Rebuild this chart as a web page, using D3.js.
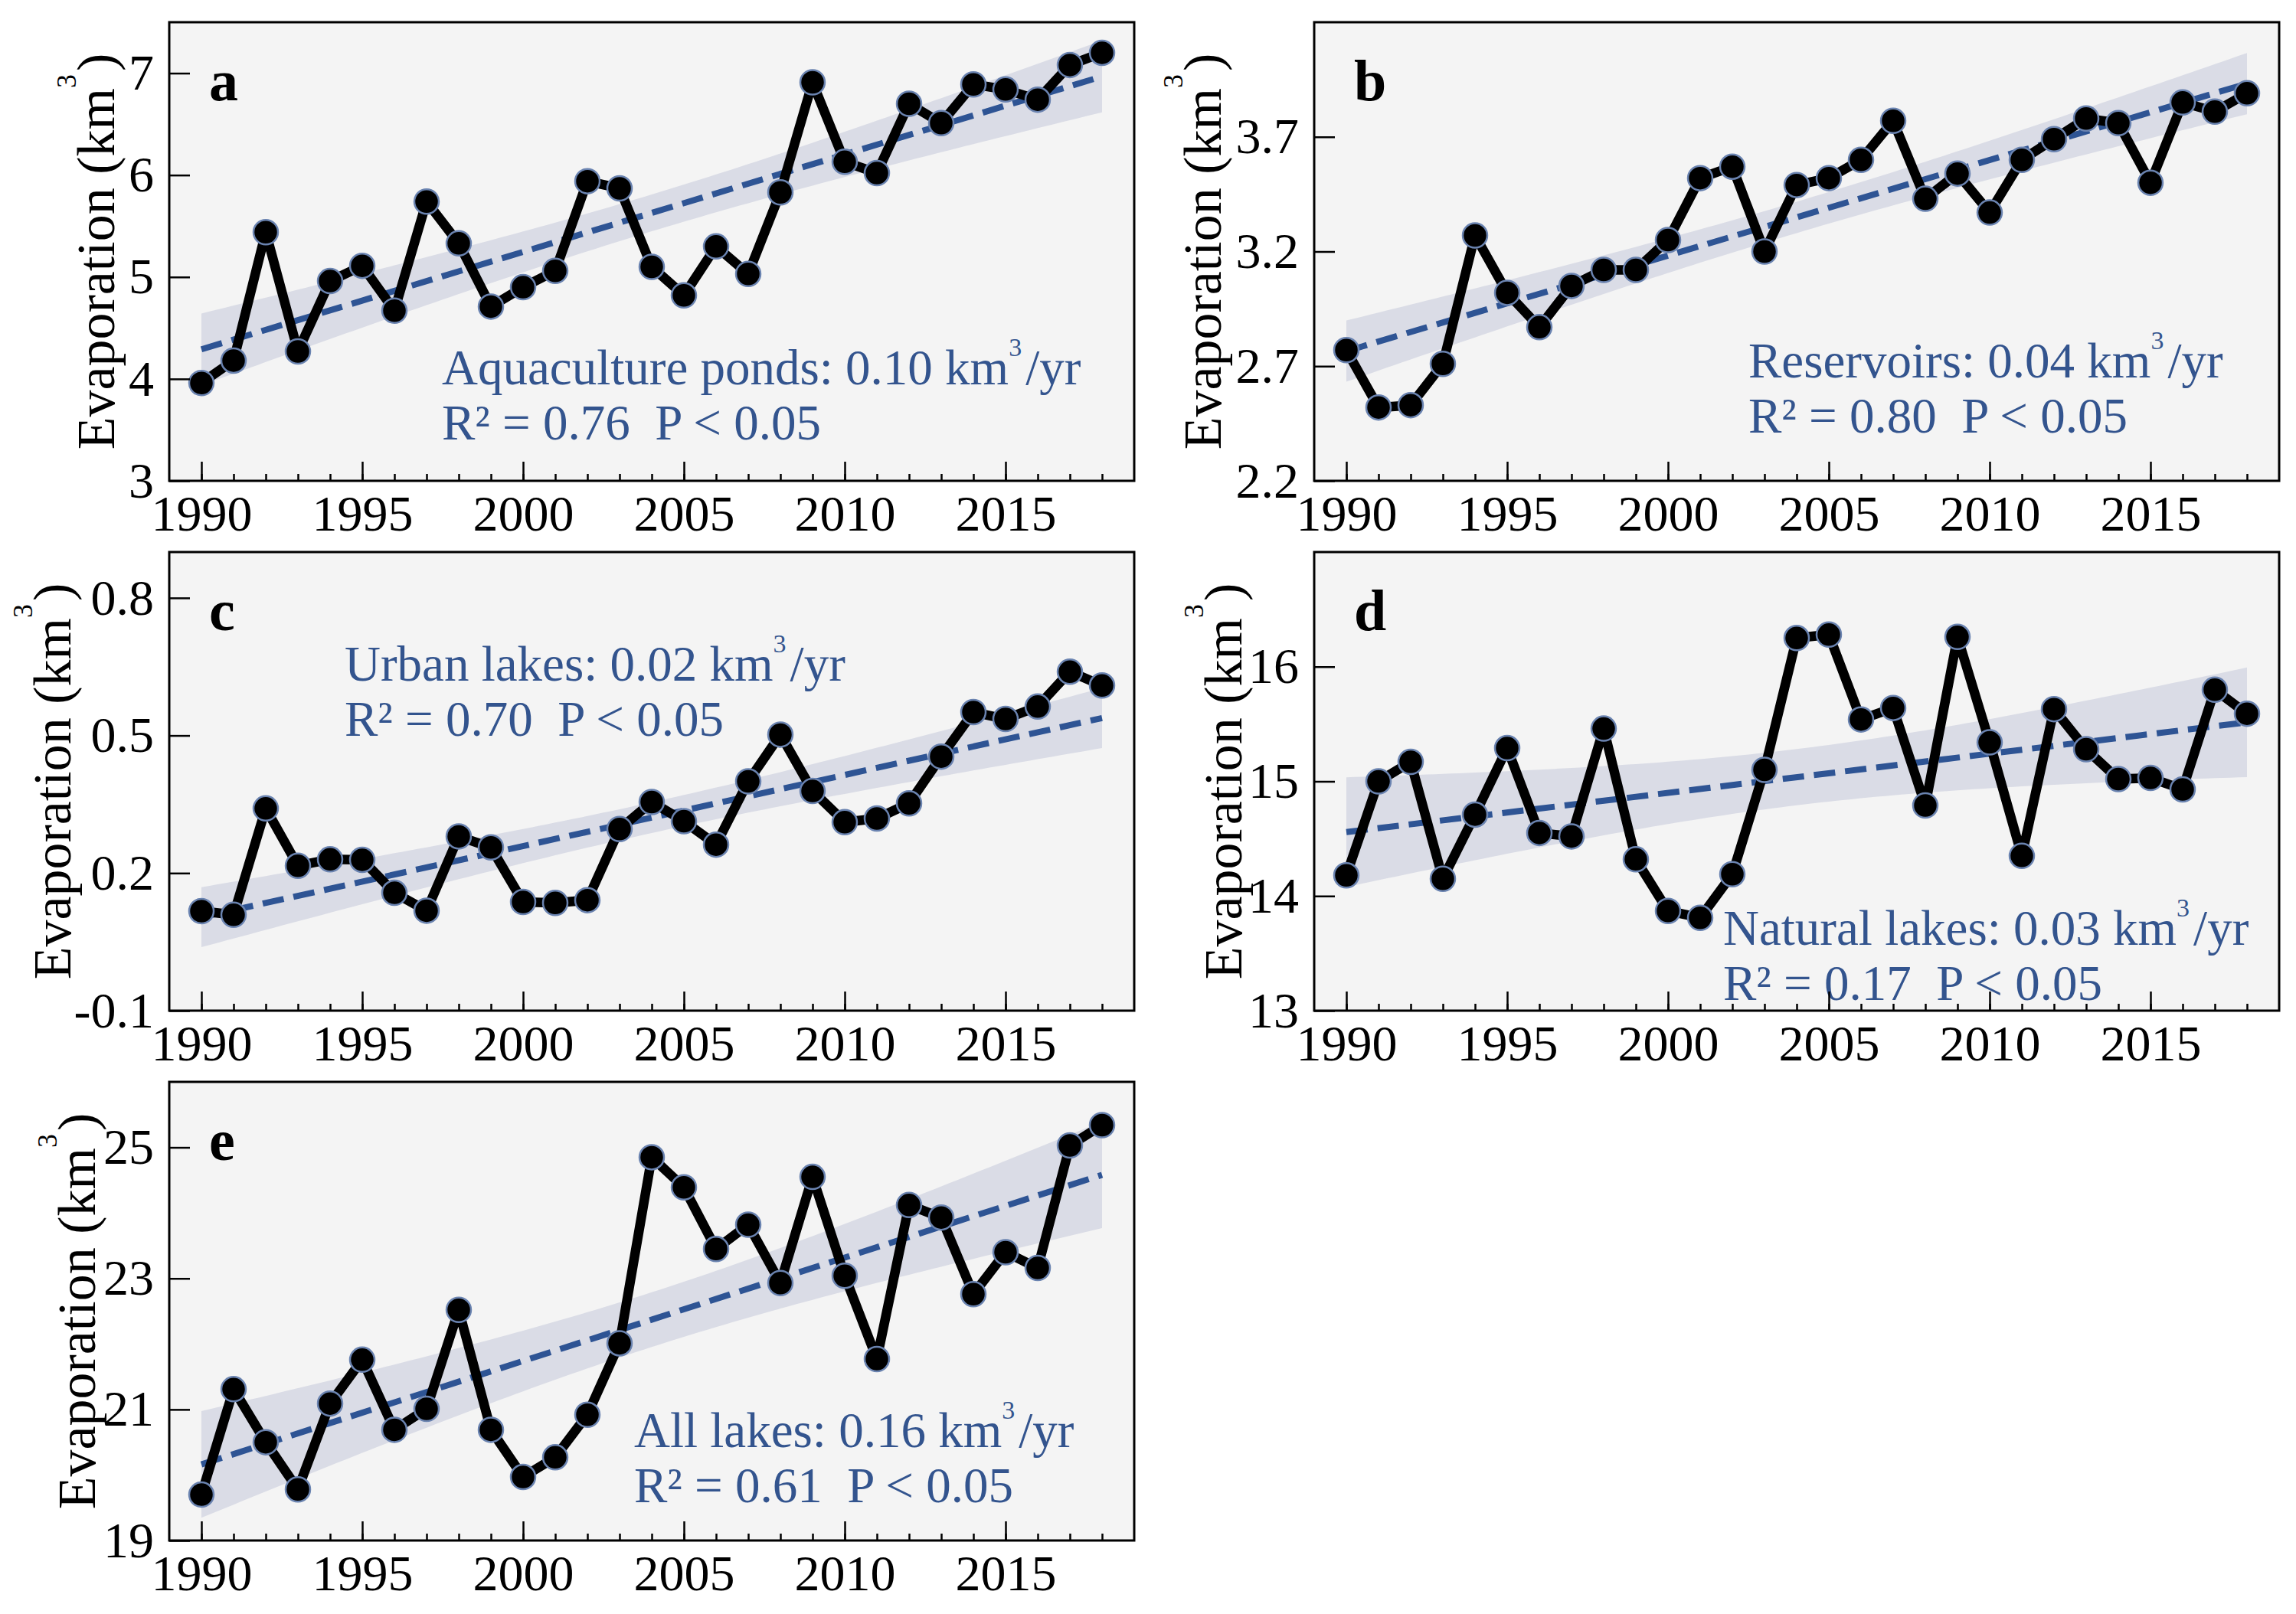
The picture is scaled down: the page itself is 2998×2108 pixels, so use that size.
<!DOCTYPE html>
<html>
<head>
<meta charset="utf-8">
<script src="https://cdn.jsdelivr.net/npm/d3@7"></script>
<style>
  body { margin: 0; background: #fff; }
  text { font-family: "Times New Roman", "Liberation Serif", serif; }
</style>
</head>
<body>
<svg id="fig" width="2998" height="2108"></svg>
<script>
// values
var years = [1990, 1991, 1992, 1993, 1994, 1995, 1996, 1997, 1998, 1999,
             2000, 2001, 2002, 2003, 2004, 2005, 2006, 2007, 2008, 2009,
             2010, 2011, 2012, 2013, 2014, 2015, 2016, 2017, 2018];

var aquaculturePonds = [3.96, 4.18, 5.44, 4.27, 4.96, 5.11, 4.67, 5.74, 5.33, 4.71,
                        4.90, 5.06, 5.94, 5.87, 5.10, 4.82, 5.30, 5.03, 5.83, 6.91,
                        6.13, 6.02, 6.70, 6.51, 6.89, 6.84, 6.74, 7.08, 7.20];
var reservoirs = [2.77, 2.52, 2.53, 2.71, 3.27, 3.02, 2.87, 3.05, 3.12, 3.12,
                  3.25, 3.52, 3.57, 3.20, 3.49, 3.52, 3.60, 3.77, 3.43, 3.54,
                  3.37, 3.60, 3.69, 3.78, 3.76, 3.50, 3.85, 3.81, 3.89];
var urbanLakes = [0.117, 0.109, 0.341, 0.216, 0.230, 0.229, 0.157, 0.118, 0.280, 0.256,
                  0.137, 0.135, 0.141, 0.296, 0.355, 0.313, 0.262, 0.400, 0.502, 0.379,
                  0.311, 0.319, 0.352, 0.454, 0.551, 0.536, 0.563, 0.639, 0.609];
var naturalLakes = [14.18, 15.00, 15.17, 14.15, 14.71, 15.29, 14.55, 14.52, 15.46, 14.32,
                    13.87, 13.81, 14.19, 15.10, 16.25, 16.28, 15.54, 15.64, 14.79, 16.26,
                    15.34, 14.35, 15.63, 15.28, 15.02, 15.03, 14.93, 15.80, 15.59];
var allLakes = [19.70, 21.31, 20.50, 19.78, 21.09, 21.76, 20.69, 21.01, 22.52, 20.69,
                19.97, 20.27, 20.92, 22.01, 24.85, 24.39, 23.45, 23.82, 22.93, 24.55,
                23.04, 21.77, 24.12, 23.93, 22.76, 23.40, 23.16, 25.03, 25.34];

var seriesValues = [aquaculturePonds, reservoirs, urbanLakes, naturalLakes, allLakes];
var panelLetters = ["a", "b", "c", "d", "e"];
var lakeNames = ["Aquaculture ponds", "Reservoirs", "Urban lakes", "Natural lakes", "All lakes"];
var rates = ["0.10", "0.04", "0.02", "0.03", "0.16"];
var rSquared = ["0.76", "0.80", "0.70", "0.17", "0.61"];

var yDomains = [[3, 7.5], [2.2, 4.2], [-0.1, 0.9], [13, 17], [19, 26]];
var yTicks = [[3, 4, 5, 6, 7], [2.2, 2.7, 3.2, 3.7], [-0.1, 0.2, 0.5, 0.8], [13, 14, 15, 16], [19, 21, 23, 25]];
var yTickLabels = [["3", "4", "5", "6", "7"], ["2.2", "2.7", "3.2", "3.7"],
                   ["-0.1", "0.2", "0.5", "0.8"], ["13", "14", "15", "16"], ["19", "21", "23", "25"]];
var xDomain = [1989, 2019];
var xMajorTicks = [1990, 1995, 2000, 2005, 2010, 2015];

// layout (pixels)
var panelW = 1260, panelH = 599;
var panels = [
  {left: 221,  top: 29,   labelGap: 72,  note: [356, 473]},
  {left: 1716, top: 29,   labelGap: 122, note: [567, 464]},
  {left: 221,  top: 721,  labelGap: 129, note: [229, 168]},
  {left: 1716, top: 721,  labelGap: 95,  note: [534, 513]},
  {left: 221,  top: 1413, labelGap: 97,  note: [607, 477]}
];
var noteColor = "#33548e";
var trendColor = "#2e5494";

var translate = function(x, y) { return "translate(" + x + "," + y + ")"; };

// ordinary least squares with a 95% confidence band
var fitLine = function(xs, ys) {
  var n = xs.length;
  var mx = d3.mean(xs), my = d3.mean(ys);
  var sxx = d3.sum(xs, function(x) { return (x - mx) * (x - mx); });
  var sxy = d3.sum(xs, function(x, i) { return (x - mx) * (ys[i] - my); });
  var slope = sxy / sxx;
  var icpt = my - slope * mx;
  var sse = d3.sum(xs, function(x, i) { return Math.pow(ys[i] - (icpt + slope * x), 2); });
  var s = Math.sqrt(sse / (n - 2));
  var t = 2.052; // t(0.975, 27)
  return {
    y: function(x) { return icpt + slope * x; },
    half: function(x) { return t * s * Math.sqrt(1 / n + (x - mx) * (x - mx) / sxx); }
  };
};

var svg = d3.select("#fig");

var drawPanel = function(i) {
  var p = panels[i];
  var values = seriesValues[i];
  var x = d3.scaleLinear().domain(xDomain).range([0, panelW]);
  var y = d3.scaleLinear().domain(yDomains[i]).range([panelH, 0]);

  var plot = svg.append("g")
    .attr("class", "panel")
    .attr("transform", translate(p.left, p.top));

  plot.append("rect")
    .attr("width", panelW)
    .attr("height", panelH)
    .attr("fill", "#f4f4f4");

  // regression band and line
  var fit = fitLine(years, values);
  var bandX = d3.range(years[0], years[years.length - 1] + 0.001, 0.25);
  plot.append("path")
    .datum(bandX)
    .attr("fill", "#dadce6")
    .attr("d", d3.area()
      .x(function(d) { return x(d); })
      .y0(function(d) { return y(fit.y(d) - fit.half(d)); })
      .y1(function(d) { return y(fit.y(d) + fit.half(d)); }));

  plot.append("path")
    .datum([years[0], years[years.length - 1]])
    .attr("fill", "none")
    .attr("stroke", trendColor)
    .attr("stroke-width", 8)
    .attr("stroke-dasharray", "28,13")
    .attr("d", d3.line()
      .x(function(d) { return x(d); })
      .y(function(d) { return y(fit.y(d)); }));

  // data line and markers
  plot.append("path")
    .datum(values)
    .attr("fill", "none")
    .attr("stroke", "#000")
    .attr("stroke-width", 12.5)
    .attr("stroke-linejoin", "round")
    .attr("d", d3.line()
      .x(function(d, j) { return x(years[j]); })
      .y(function(d) { return y(d); }));

  plot.selectAll("circle.pt")
    .data(values)
    .enter()
    .append("circle")
    .attr("class", "pt")
    .attr("cx", function(d, j) { return x(years[j]); })
    .attr("cy", function(d) { return y(d); })
    .attr("r", 16)
    .attr("fill", "#000")
    .attr("stroke", "#6a83b0")
    .attr("stroke-width", 2.5);

  // annotation
  var note = plot.append("text")
    .attr("x", p.note[0])
    .attr("y", p.note[1])
    .attr("fill", noteColor)
    .style("font-size", "65px");
  note.append("tspan").text(lakeNames[i] + ": " + rates[i] + " km");
  note.append("tspan").attr("dy", -37).style("font-size", "34px").text("3");
  note.append("tspan").attr("dy", 37).attr("dx", 5).text("/yr");

  plot.append("text")
    .attr("x", p.note[0])
    .attr("y", p.note[1] + 72)
    .attr("fill", noteColor)
    .style("font-size", "65px")
    .style("white-space", "pre")
    .text("R\u00b2 = " + rSquared[i] + "  P < 0.05");

  // panel letter
  plot.append("text")
    .attr("x", 52)
    .attr("y", 102)
    .style("font-size", "76px")
    .style("font-weight", "bold")
    .text(panelLetters[i]);

  // axes
  var minorAxis = d3.axisBottom(x)
    .tickValues(years)
    .tickSizeInner(-9)
    .tickSizeOuter(0)
    .tickFormat("");
  var majorAxis = d3.axisBottom(x)
    .tickValues(xMajorTicks)
    .tickSizeInner(-25)
    .tickSizeOuter(0)
    .tickPadding(18)
    .tickFormat(d3.format("d"));
  var leftAxis = d3.axisLeft(y)
    .tickValues(yTicks[i])
    .tickSizeInner(-27)
    .tickSizeOuter(0)
    .tickPadding(20)
    .tickFormat(function(d, j) { return yTickLabels[i][j]; });

  [minorAxis, majorAxis].forEach(function(ax) {
    plot.append("g")
      .attr("class", "x-axis")
      .attr("transform", translate(0, panelH))
      .call(ax);
  });
  plot.append("g")
    .attr("class", "y-axis")
    .call(leftAxis);

  plot.selectAll(".x-axis .domain, .y-axis .domain").remove();
  plot.selectAll(".x-axis line, .y-axis line")
    .attr("stroke", "#000")
    .attr("stroke-width", 2.5);
  plot.selectAll(".x-axis text, .y-axis text")
    .attr("fill", "#000")
    .style("font-size", "66px")
    .style("font-family", "'Times New Roman', 'Liberation Serif', serif");

  plot.append("rect")
    .attr("width", panelW)
    .attr("height", panelH)
    .attr("fill", "none")
    .attr("stroke", "#000")
    .attr("stroke-width", 3);

  // y label
  var yl = svg.append("text")
    .attr("transform", translate(p.left - p.labelGap, p.top + panelH / 2) + " rotate(-90)")
    .attr("text-anchor", "middle")
    .style("font-size", "70px");
  yl.append("tspan").text("Evaporation (km");
  yl.append("tspan").attr("dy", -50).style("font-size", "36px").text("3");
  yl.append("tspan").attr("dy", 50).attr("dx", 4).text(")");
};

for (var i = 0; i < panels.length; i++) {
  drawPanel(i);
}
</script>
</body>
</html>
